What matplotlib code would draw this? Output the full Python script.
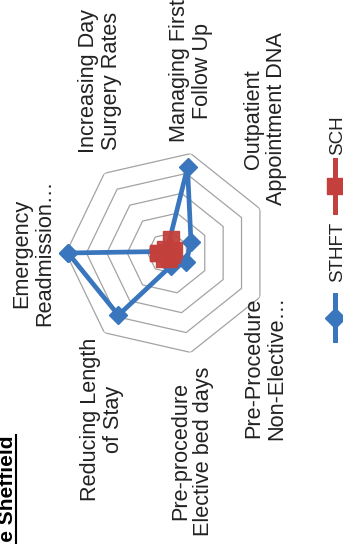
import numpy as np
import matplotlib
matplotlib.use('Agg')
import matplotlib.pyplot as plt
from matplotlib.lines import Line2D

plt.rcParams['font.family'] = ['Liberation Sans', 'DejaVu Sans']

# chart data (radar, first category at the top of the unrotated chart, clockwise)
categories = ['Emergency\nReadmission…', 'Increasing Day\nSurgery Rates',
              'Managing First\nFollow Up', 'Outpatient\nAppointment DNA',
              'Pre-Procedure\nNon-Elective…', 'Pre-procedure\nElective bed days',
              'Reducing Length\nof Stay']
series_names = ['STHFT', 'SCH']
sthft = [9.8, 0.2, 8.6, 2.5, 2.0, 1.3, 7.8]
sch = [1.0, 0.5, 1.4, 0.6, 0.4, 0.6, 0.7]
ring_levels = [2, 4, 6, 8, 10]
title = 'Productivity Opportunities - The Sheffield'

blue = '#3a76bd'
red = '#c3403c'
grid_col = '#a3a3a3'
text_col = '#222222'

# label placement: (angle offset deg, radius, ha, va) -- the whole chart is turned 90 deg
label_layout = [(0.0, 11.1, 'right', 'center'),
                (4.4, 11.85, 'center', 'bottom'),
                (-1.2, 11.1, 'center', 'bottom'),
                (-0.6, 10.6, 'center', 'bottom'),
                (-1.8, 10.4, 'center', 'top'),
                (0.8, 11.4, 'center', 'top'),
                (-0.8, 10.55, 'center', 'top')]

W, H = 343, 544
fig = plt.figure(figsize=(W / 100, H / 100), dpi=100)

cx, cy, R = 168, 253, 102
ax = fig.add_axes([(cx - R) / W, 1 - (cy + R) / H, 2 * R / W, 2 * R / H],
                  projection='polar')
ax.set_theta_zero_location('W')
ax.set_theta_direction(-1)
ax.set_ylim(0, max(ring_levels))
ax.grid(False)
ax.set_xticks([])
ax.set_yticks([])
ax.spines['polar'].set_visible(False)

n = len(categories)
angles = np.arange(n) * 2 * np.pi / n
closed = np.append(angles, angles[0])

for lvl in ring_levels:
    ax.plot(closed, [lvl] * (n + 1), color=grid_col, lw=0.9, zorder=1)

ax.plot(closed, sthft + sthft[:1], color=blue, lw=3.4, marker='D', ms=9,
        mec=blue, mfc=blue, zorder=3, clip_on=False)
ax.plot(closed, sch + sch[:1], color=red, lw=3.0, marker='s', ms=11.5,
        mec=red, mfc=red, alpha=0.95, zorder=4, clip_on=False)

for ang, lab, (dth, r, ha, va) in zip(angles, categories, label_layout):
    ax.text(ang + np.deg2rad(dth), r, lab, rotation=90, ha=ha, va=va,
            fontsize=15.6, color=text_col, linespacing=1.1,
            multialignment='center')

# title, cut by the page edge as in the source
t = fig.text(12.7 / W, 1 - 435 / H, title, rotation=90, rotation_mode='anchor',
             ha='right', va='baseline', fontsize=15, fontweight='bold',
             color='black')
fig.canvas.draw()
bb = t.get_window_extent()
ux = 15.7 / W
fig.add_artist(Line2D([ux, ux], [bb.y0 / H, bb.y1 / H], transform=fig.transFigure,
                      color='black', lw=1.5))

# legend, drawn by hand so it can be turned with the chart
lx = 335 / W
leg = [(blue, 'D', 10, 295, 340, 282), (red, 's', 11.5, 160, 212, 155)]
for name, (c, m, ms, y0, y1, ty) in zip(series_names, leg):
    fig.add_artist(Line2D([lx, lx], [1 - y0 / H, 1 - y1 / H], transform=fig.transFigure,
                          color=c, lw=3.6))
    ym = 1 - (y0 + y1) / 2 / H
    fig.add_artist(Line2D([lx], [ym], transform=fig.transFigure, marker=m, ms=ms,
                          color=c, mec=c))
    fig.text(342 / W, 1 - ty / H, name, rotation=90, rotation_mode='anchor',
             ha='left', va='baseline', fontsize=13.5, color=text_col)

fig.savefig('out.png', dpi=100, facecolor='white')
